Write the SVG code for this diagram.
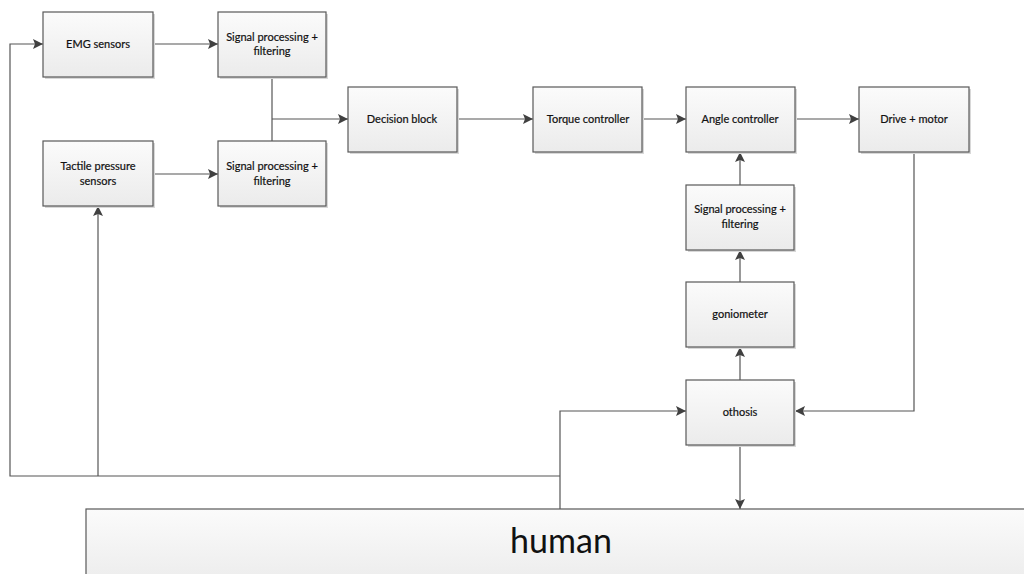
<svg xmlns="http://www.w3.org/2000/svg" width="1024" height="574" viewBox="0 0 1024 574">
<style>
.box{fill:url(#g);stroke:#595959;stroke-width:1.2}
.sh{fill:#d8d8d8}
.t{font-family:Lato,"Open Sans","Liberation Sans",sans-serif;font-size:11px;fill:#111;text-anchor:middle;stroke:#111;stroke-width:0.2}
.big{font-family:Lato,"Open Sans","Liberation Sans",sans-serif;font-size:34px;fill:#111;text-anchor:middle}
.c{fill:none;stroke:#555;stroke-width:1.2}
</style>
<defs>
<linearGradient id="g" x1="0" y1="0" x2="0" y2="1">
<stop offset="0" stop-color="#fbfbfb"/>
<stop offset="1" stop-color="#ebebeb"/>
</linearGradient>
<marker id="a" viewBox="0 0 10 10" refX="10" refY="5" markerWidth="10" markerHeight="10" markerUnits="userSpaceOnUse" orient="auto">
<path d="M0,0 L10,5 L0,10 L2,5 z" fill="#404040"/>
</marker>
</defs>
<g id="connectors">
<path class="c" d="M153,44 H218" marker-end="url(#a)"/>
<path class="c" d="M153,174 H218" marker-end="url(#a)"/>
<path class="c" d="M272,77 V141"/>
<path class="c" d="M272,119 H348" marker-end="url(#a)"/>
<path class="c" d="M457,119 H533" marker-end="url(#a)"/>
<path class="c" d="M642,119 H686" marker-end="url(#a)"/>
<path class="c" d="M795,119 H859" marker-end="url(#a)"/>
<path class="c" d="M740,185 V152" marker-end="url(#a)"/>
<path class="c" d="M740,282 V250" marker-end="url(#a)"/>
<path class="c" d="M740,380 V347" marker-end="url(#a)"/>
<path class="c" d="M914,152 V411 H795" marker-end="url(#a)"/>
<path class="c" d="M740,445 V509" marker-end="url(#a)"/>
<path class="c" d="M560,509 V411 H686" marker-end="url(#a)"/>
<path class="c" d="M560,476 H10 V44 H43" marker-end="url(#a)"/>
<path class="c" d="M98,476 V206" marker-end="url(#a)"/>
</g>
<g id="emg"><rect class="sh" x="45" y="14" width="110" height="65"/><rect class="box" x="43" y="12" width="110" height="65"/><text class="t" x="98" y="48">EMG sensors</text></g>
<g id="sp1"><rect class="sh" x="220" y="14" width="108" height="65"/><rect class="box" x="218" y="12" width="108" height="65"/><text class="t" x="272" y="41">Signal processing +</text><text class="t" x="272" y="55">filtering</text></g>
<g id="tactile"><rect class="sh" x="45" y="143" width="110" height="65"/><rect class="box" x="43" y="141" width="110" height="65"/><text class="t" x="98" y="170">Tactile pressure</text><text class="t" x="98" y="185">sensors</text></g>
<g id="sp2"><rect class="sh" x="220" y="143" width="108" height="65"/><rect class="box" x="218" y="141" width="108" height="65"/><text class="t" x="272" y="170">Signal processing +</text><text class="t" x="272" y="185">filtering</text></g>
<g id="decision"><rect class="sh" x="350" y="89" width="109" height="65"/><rect class="box" x="348" y="87" width="109" height="65"/><text class="t" x="402" y="123">Decision block</text></g>
<g id="torque"><rect class="sh" x="535" y="89" width="109" height="65"/><rect class="box" x="533" y="87" width="109" height="65"/><text class="t" x="588" y="123">Torque controller</text></g>
<g id="angle"><rect class="sh" x="688" y="89" width="109" height="65"/><rect class="box" x="686" y="87" width="109" height="65"/><text class="t" x="740" y="123">Angle controller</text></g>
<g id="drive"><rect class="sh" x="861" y="89" width="110" height="65"/><rect class="box" x="859" y="87" width="110" height="65"/><text class="t" x="914" y="123">Drive + motor</text></g>
<g id="sp3"><rect class="sh" x="688" y="187" width="108" height="65"/><rect class="box" x="686" y="185" width="108" height="65"/><text class="t" x="740" y="213">Signal processing +</text><text class="t" x="740" y="228">filtering</text></g>
<g id="goniometer"><rect class="sh" x="688" y="284" width="108" height="65"/><rect class="box" x="686" y="282" width="108" height="65"/><text class="t" x="740" y="318">goniometer</text></g>
<g id="othosis"><rect class="sh" x="688" y="382" width="108" height="65"/><rect class="box" x="686" y="380" width="108" height="65"/><text class="t" x="740" y="416">othosis</text></g>
<g id="human"><rect class="box" x="86" y="509" width="960" height="80"/><text class="big" x="561" y="553">human</text></g>
</svg>
